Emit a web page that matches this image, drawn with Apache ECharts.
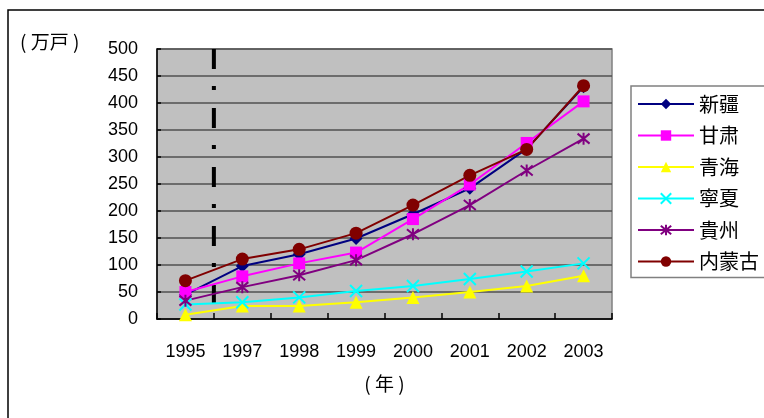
<!DOCTYPE html>
<html>
<head>
<meta charset="utf-8">
<script src="https://cdn.jsdelivr.net/npm/echarts@6/dist/echarts.min.js"></script>
<style>
  html, body { margin: 0; padding: 0; background: #ffffff; }
  #chart { width: 764px; height: 418px; }
</style>
</head>
<body>
<div id="chart"></div>
<script>
// Households (万戸) by region, 1995–2003
const years = ['1995', '1997', '1998', '1999', '2000', '2001', '2002', '2003'];
const xinjiang   = [45, 98, 120, 149, 194, 242, 315, 430];
const gansu      = [50, 79, 103, 123, 185, 249, 326, 403];
const qinghai    = [8, 24, 24, 31, 40, 50, 61, 80];
const ningxia    = [27, 31, 40, 52, 61, 74, 88, 103];
const guizhou    = [34, 59, 81, 109, 157, 211, 275, 334];
const neimenggu  = [71, 111, 129, 159, 211, 266, 314, 432];
const yTicks     = { min: 0, max: 500, step: 50 };
// Divider between 1995 and 1997 (position on the index scale, value range)
const dividerPos = 0.5;
const dividerRange = [500, 28];

const FONT = '"Liberation Sans", Arial, sans-serif';
const CJK = '"Noto Sans CJK JP", "Noto Sans CJK SC", sans-serif';

const crossPath = 'path://M0,0L10,10M10,0L0,10';
const starPath  = 'path://M0,0L10,10M10,0L0,10M5,-1L5,11';

function lineSeries(name, data, color, symbol, size, extra) {
  return Object.assign({
    name: name,
    type: 'line',
    data: data,
    xAxisIndex: 0,
    yAxisIndex: 0,
    symbol: symbol,
    symbolSize: size,
    showAllSymbol: true,
    lineStyle: { color: color, width: 2 },
    itemStyle: { color: color, borderColor: color, borderWidth: 0 },
    emphasis: { disabled: true },
    animation: false
  }, extra || {});
}

const chart = echarts.init(document.getElementById('chart'), null, { renderer: 'canvas' });

chart.setOption({
  backgroundColor: '#ffffff',
  animation: false,
  textStyle: { fontFamily: FONT },
  graphic: [
    {
      type: 'rect',
      z: -10,
      shape: { x: 8, y: 10, width: 900, height: 600 },
      style: { fill: 'none', stroke: '#000000', lineWidth: 1.5 }
    },
    {
      type: 'text',
      left: 20,
      top: 32,
      style: { text: '( 万戸 )', font: '19px ' + CJK, fill: '#000000' }
    }
  ],
  grid: {
    left: 157, top: 49, right: 152, bottom: 99,
    show: true,
    backgroundColor: '#c0c0c0',
    borderColor: '#808080',
    borderWidth: 1.5
  },
  legend: {
    orient: 'vertical',
    left: 631,
    top: 86,
    width: 133,
    padding: [8, 20, 6, 6],
    itemWidth: 56,
    itemHeight: 13,
    itemGap: 11.5,
    borderColor: '#808080',
    borderWidth: 1.5,
    backgroundColor: '#ffffff',
    textStyle: { fontFamily: CJK, fontSize: 20, color: '#000000', padding: [0, 0, 0, 0] },
    data: ['新疆', '甘肃', '青海', '寧夏', '貴州', '内蒙古'].map(function (n) { return { name: n }; })
  },
  xAxis: [
    {
      type: 'category',
      data: years,
      boundaryGap: true,
      axisLine: { show: true, lineStyle: { color: '#000000', width: 1.5 } },
      axisTick: { show: true, inside: true, length: 6, lineStyle: { color: '#000000', width: 1.5 } },
      axisLabel: { color: '#000000', fontSize: 18, margin: 24, fontFamily: FONT },
      splitLine: { show: false },
      name: '( 年 )',
      nameLocation: 'middle',
      nameGap: 55,
      nameTextStyle: { color: '#000000', fontSize: 19, fontFamily: CJK }
    },
    {
      type: 'value',
      min: -0.5,
      max: 7.5,
      show: false
    }
  ],
  yAxis: {
    type: 'value',
    min: yTicks.min,
    max: yTicks.max,
    interval: yTicks.step,
    axisLine: { show: true, onZero: false, lineStyle: { color: '#000000', width: 1.5 } },
    axisTick: { show: true, inside: true, length: 4, lineStyle: { color: '#000000', width: 1.5 } },
    axisLabel: { color: '#000000', fontSize: 18, margin: 19, fontFamily: FONT },
    splitLine: { show: true, lineStyle: { color: '#505050', width: 1.5 } }
  },
  series: [
    {
      name: 'divider',
      type: 'line',
      xAxisIndex: 1,
      yAxisIndex: 0,
      data: [[dividerPos, dividerRange[0]], [dividerPos, dividerRange[1]]],
      symbol: 'none',
      lineStyle: { color: '#000000', width: 4, type: [20, 17, 4, 18] },
      silent: true,
      z: 1,
      animation: false
    },
    lineSeries('新疆', xinjiang, '#000080', 'diamond', 13),
    lineSeries('甘肃', gansu, '#ff00ff', 'rect', 12),
    lineSeries('青海', qinghai, '#ffff00', 'triangle', 13),
    lineSeries('寧夏', ningxia, '#00ffff', crossPath, 12, {
      itemStyle: { color: '#00ffff', borderColor: '#00ffff', borderWidth: 2 }
    }),
    lineSeries('貴州', guizhou, '#800080', starPath, 12, {
      itemStyle: { color: '#800080', borderColor: '#800080', borderWidth: 2 }
    }),
    lineSeries('内蒙古', neimenggu, '#800000', 'circle', 13)
  ]
});
</script>
</body>
</html>
